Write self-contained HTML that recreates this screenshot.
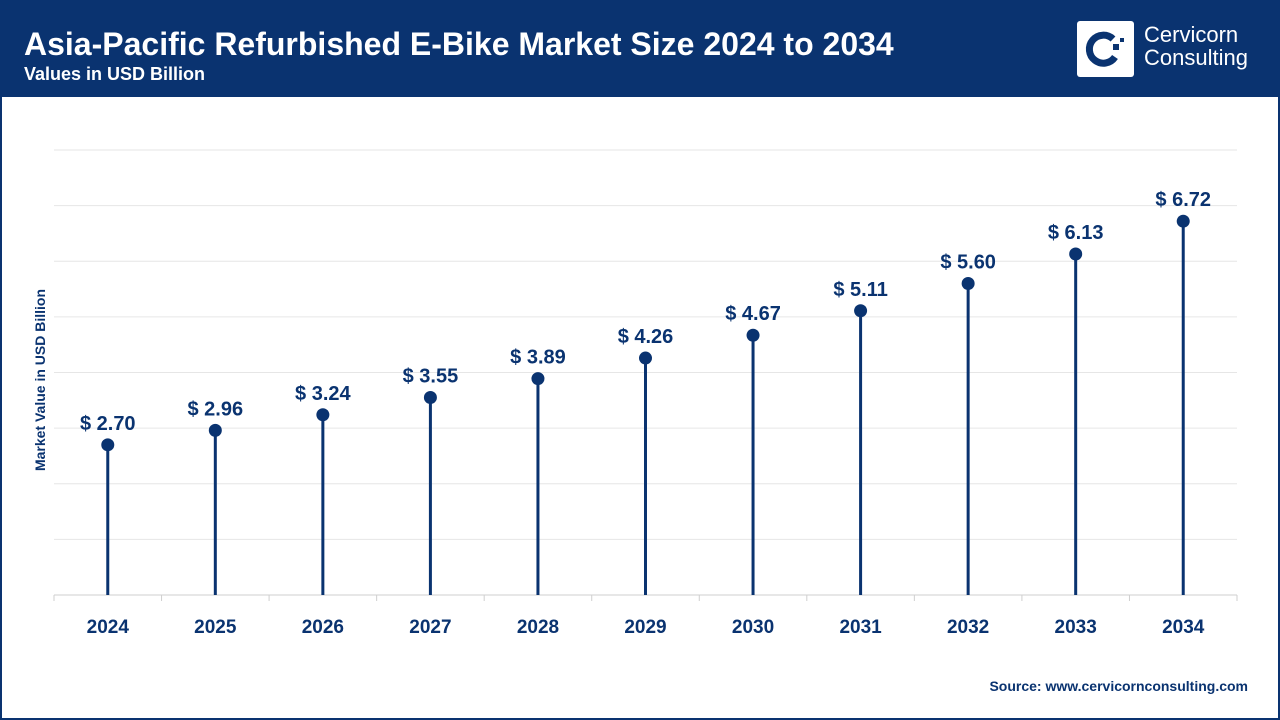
<!DOCTYPE html>
<html><head><meta charset="utf-8"><style>
body{margin:0;width:1280px;height:720px;overflow:hidden;font-family:"Liberation Sans",sans-serif;}
#frame{position:absolute;left:0;top:0;width:1276px;height:716px;border:2px solid #0a3370;background:#fff;}
#hdr{position:absolute;left:0;top:0;width:1280px;height:97px;background:#0a3370;}
</style></head><body>
<div id="frame"></div>
<div id="hdr">
<div style="position:absolute;left:24px;top:26px;color:#fff;font-weight:bold;font-size:32px;">Asia-Pacific Refurbished E-Bike Market Size 2024 to 2034</div>
<div style="position:absolute;left:24px;top:64px;color:#fff;font-weight:bold;font-size:18px;">Values in USD Billion</div>
<div style="position:absolute;left:1077px;top:21px;width:57px;height:56px;background:#fff;border-radius:3px;">
<svg width="57" height="56"><path d="M36 18 A14 14 0 1 0 38 36" fill="none" stroke="#0a3370" stroke-width="7"/><rect x="36" y="23" width="6" height="6" fill="#0a3370"/><rect x="43" y="17" width="4" height="4" fill="#0a3370"/></svg></div>
<div style="position:absolute;left:1144px;top:23px;color:#fff;font-size:22px;line-height:23px;">Cervicorn<br>Consulting</div>
</div>
<svg id="chart" width="1280" height="720" style="position:absolute;left:0;top:0"></svg>
<div style="position:absolute;left:40px;top:380px;transform:translate(-50%,-50%) rotate(-90deg);white-space:nowrap;color:#0a3370;font-weight:bold;font-size:14px;">Market Value in USD Billion</div>
<div style="position:absolute;right:32px;top:678px;color:#0a3370;font-weight:bold;font-size:14px;">Source: www.cervicornconsulting.com</div>
<script>
const years=["2024","2025","2026","2027","2028","2029","2030","2031","2032","2033","2034"];
const values=[2.70,2.96,3.24,3.55,3.89,4.26,4.67,5.11,5.60,6.13,6.72];
const yTicks=[0,1,2,3,4,5,6,7,8];
const NS="http://www.w3.org/2000/svg",svg=document.getElementById('chart');
const L=54,R=1237,B=595,T=150,ymax=8;
const bw=(R-L)/years.length;
const x=i=>L+bw*(i+0.5), y=v=>B-(B-T)*v/ymax;
function mk(t,a,txt){const e=document.createElementNS(NS,t);for(const k in a)e.setAttribute(k,a[k]);if(txt!=null)e.textContent=txt;svg.appendChild(e);return e;}
yTicks.forEach(t=>{const g=mk('line',{x1:L,x2:R,y1:y(t),y2:y(t),stroke:t===0?'#cfcfcf':'#e6e6e6','stroke-width':1});

});
for(let i=0;i<=years.length;i++){const tk=mk('line',{x1:L+bw*i,x2:L+bw*i,y1:B,y2:B+6,stroke:'#cfcfcf'});

}
years.forEach((yr,i)=>{
const st=mk('line',{x1:x(i),x2:x(i),y1:B,y2:y(values[i]),stroke:'#0a3370','stroke-width':3});


const c=mk('circle',{cx:x(i),cy:y(values[i]),r:6.5,fill:'#0a3370'});


const lb=mk('text',{x:x(i),y:y(values[i])-15,'text-anchor':'middle','font-size':20,'font-weight':'bold',fill:'#0a3370','font-family':'Liberation Sans'},'$ '+values[i].toFixed(2));


const xl=mk('text',{x:x(i),y:633,'text-anchor':'middle','font-size':19,'font-weight':'bold',fill:'#0a3370','font-family':'Liberation Sans'},yr);


});
</script>
</body></html>
